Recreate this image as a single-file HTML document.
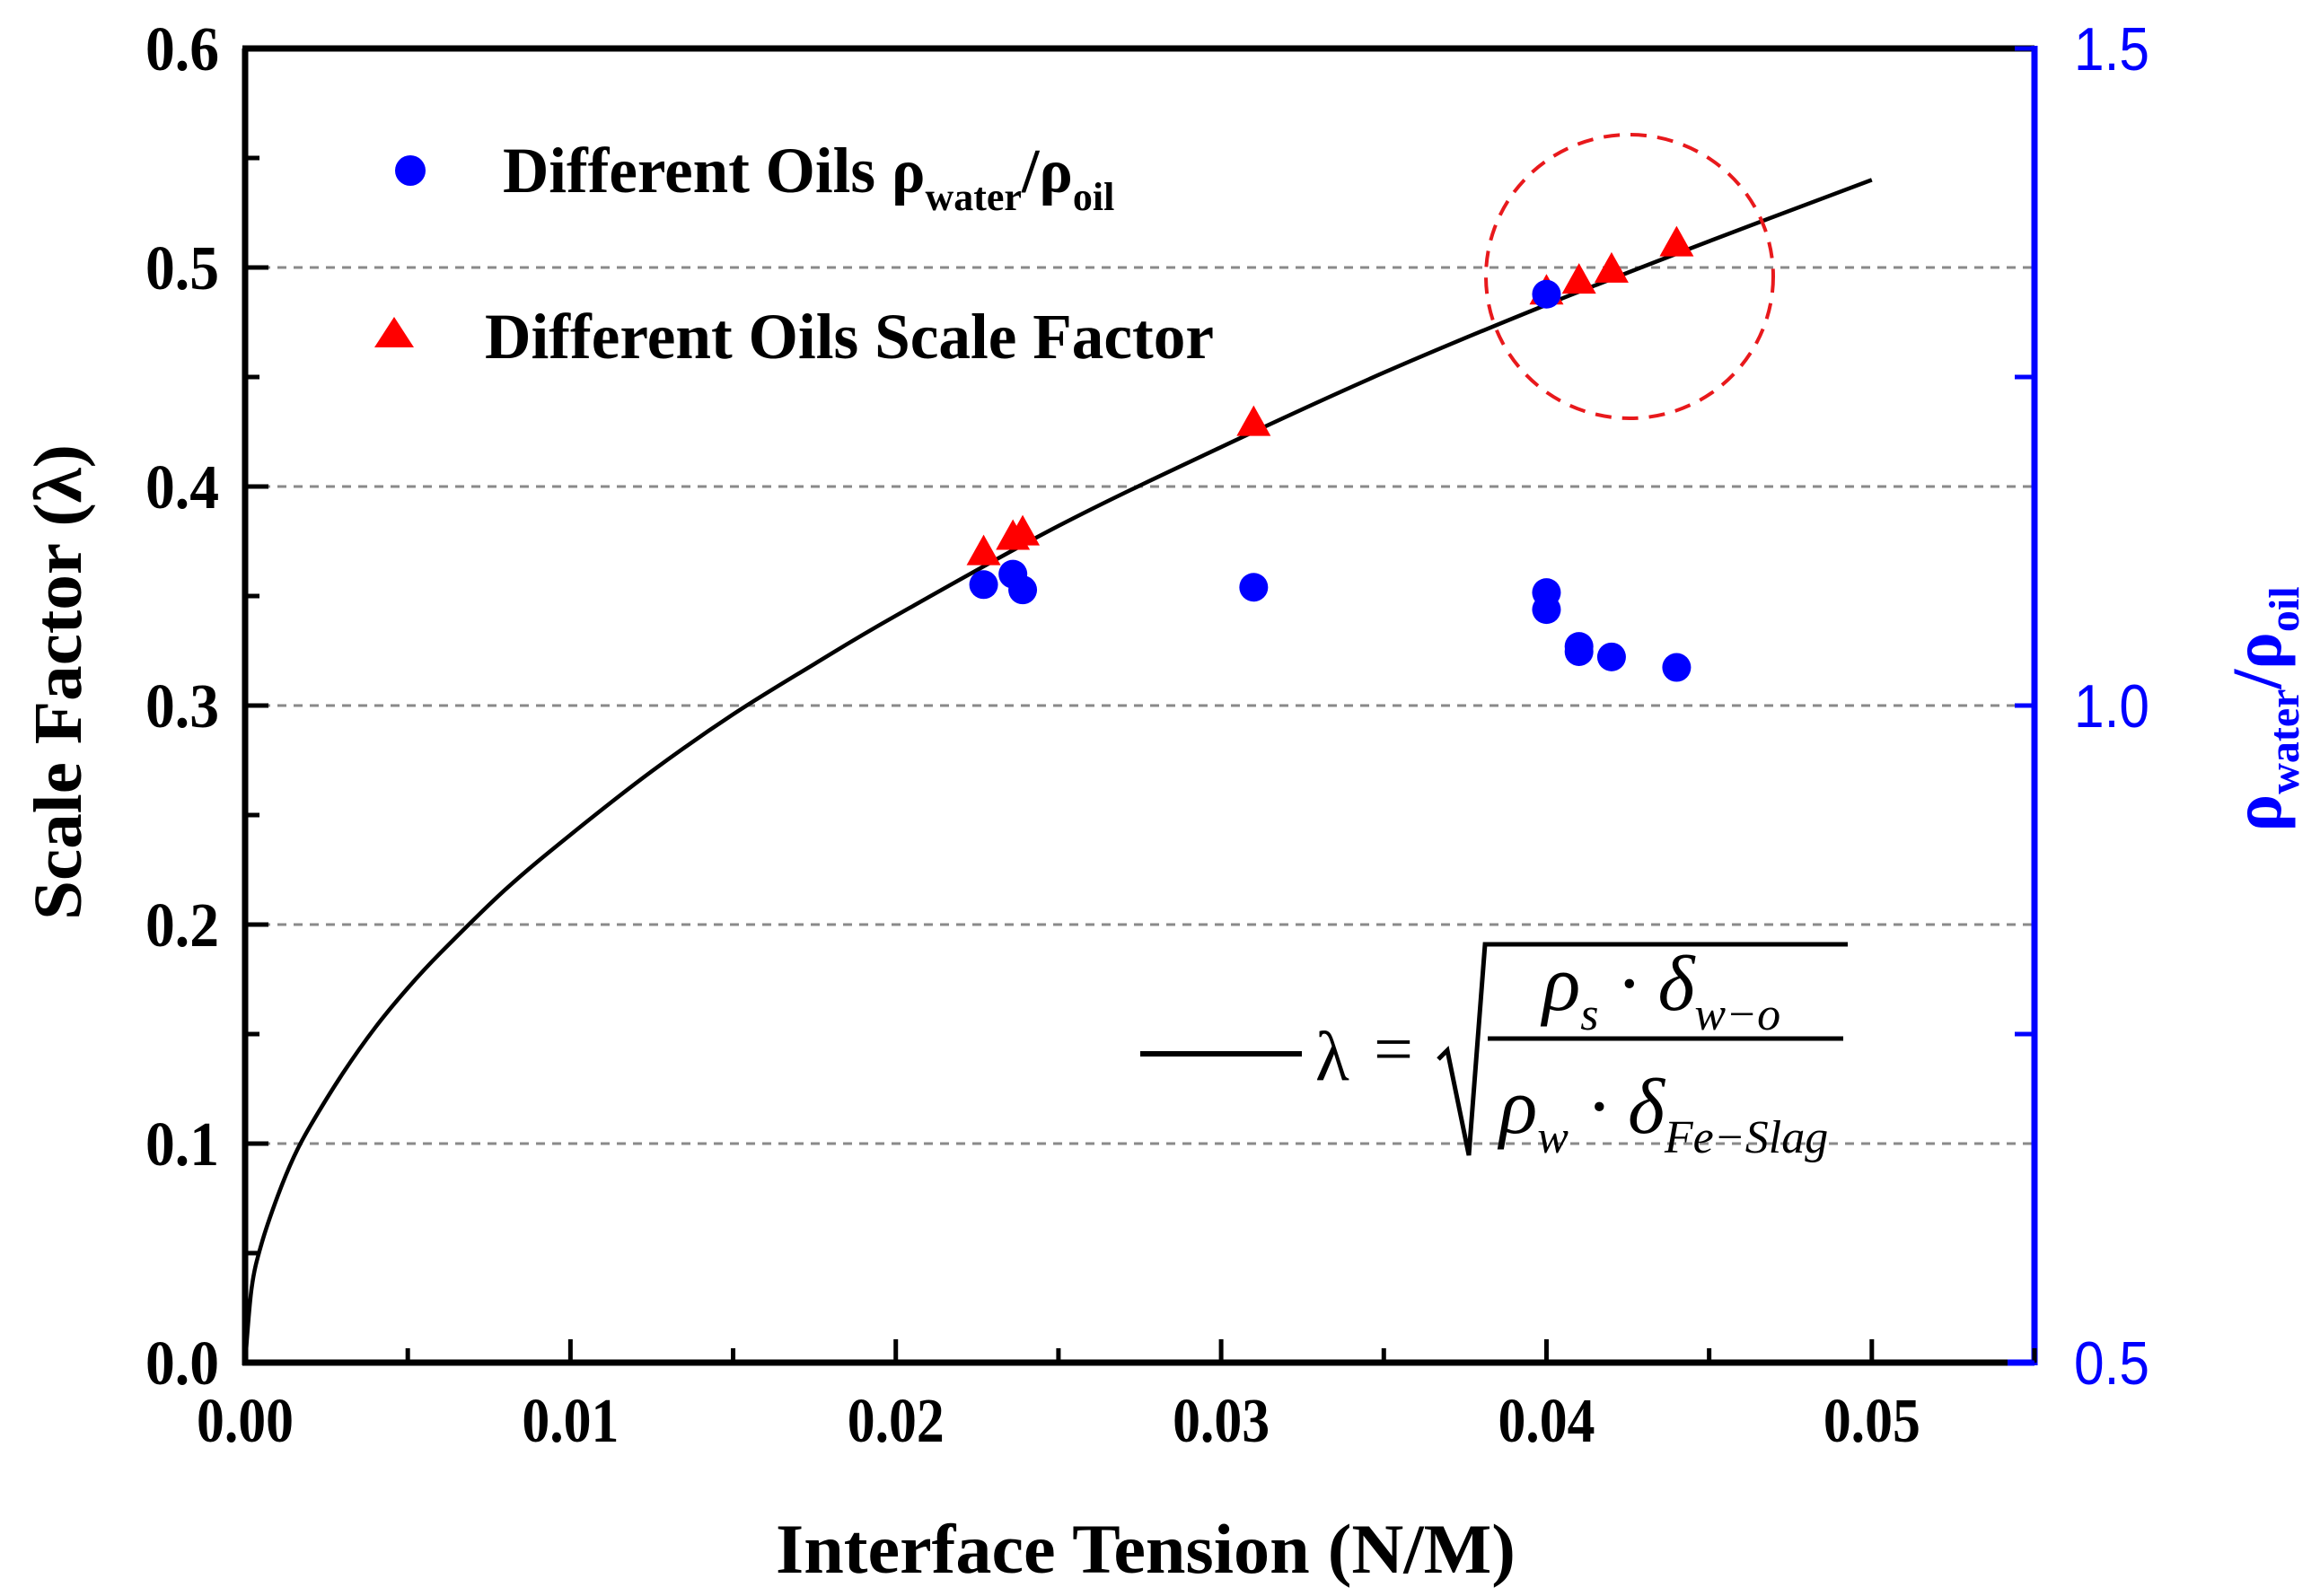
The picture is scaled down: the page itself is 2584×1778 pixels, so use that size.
<!DOCTYPE html>
<html><head><meta charset="utf-8"><style>
html,body{margin:0;padding:0;background:#fff;}
svg{display:block;}
</style></head><body>
<svg id="chart" width="2584" height="1778" viewBox="0 0 2584 1778" xmlns="http://www.w3.org/2000/svg">
  <g id="grid"></g>
  <g id="axes"></g>
  <g id="ticks" font-family="'Liberation Serif', serif" font-weight="bold"></g>
  <path id="curve" fill="none" stroke="#000" stroke-width="4.5"></path>
  <ellipse cx="1815" cy="308" rx="160" ry="158" fill="none" stroke="#e8191c" stroke-width="4" stroke-dasharray="18,12"/>
  <g id="marks"></g>

  <g font-family="'Liberation Serif', serif" font-weight="bold">
    <circle cx="457" cy="190" r="17" fill="#0000ff"/>
    <text x="560" y="214" font-size="72" textLength="415" lengthAdjust="spacingAndGlyphs">Different Oils</text>
    <text x="993" y="214" font-size="70">ρ<tspan font-size="44" dy="20">water</tspan><tspan dy="-20" font-size="70">/ρ</tspan><tspan font-size="44" dy="20">oil</tspan></text>
    <polygon points="439,353 417,387 461,387" fill="#ff0000"/>
    <text x="540" y="399" font-size="72" textLength="812" lengthAdjust="spacingAndGlyphs">Different Oils Scale Factor</text>
  </g>

  <g font-family="'Liberation Serif', serif">
    <line x1="1270" y1="1174" x2="1450" y2="1174" stroke="#000" stroke-width="6"/>
    <text x="1465" y="1203" font-size="78">λ</text>
    <text x="1530" y="1195" font-size="78">=</text>
    <polyline points="1602,1180 1612,1170 1636,1287 1654,1052 2058,1052" fill="none" stroke="#000" stroke-width="5"/>
    <line x1="1657" y1="1157" x2="2053" y2="1157" stroke="#000" stroke-width="5"/>
    <text x="1718" y="1125" font-size="88" font-style="italic">ρ<tspan font-size="52" dy="22">s</tspan><tspan font-size="88" dy="-22"> · δ</tspan><tspan font-size="52" dy="22">w−o</tspan></text>
    <text x="1670" y="1262" font-size="88" font-style="italic">ρ<tspan font-size="52" dy="22">w</tspan><tspan font-size="88" dy="-22"> · δ</tspan><tspan font-size="52" dy="22">Fe−Slag</tspan></text>
  </g>

  <text x="1276" y="1752" text-anchor="middle" font-family="'Liberation Serif', serif" font-weight="bold" font-size="78" textLength="824" lengthAdjust="spacingAndGlyphs">Interface Tension (N/M)</text>
  <text transform="translate(90,760) rotate(-90)" text-anchor="middle" font-family="'Liberation Serif', serif" font-weight="bold" font-size="76" textLength="530" lengthAdjust="spacingAndGlyphs">Scale Factor (λ)</text>
  <text transform="translate(2540,790) rotate(-90)" text-anchor="middle" font-family="'Liberation Serif', serif" font-weight="bold" font-size="78" fill="#0000ff">ρ<tspan font-size="48" dy="20">water</tspan><tspan font-size="78" dy="-20">/ρ</tspan><tspan font-size="48" dy="20">oil</tspan></text>
</svg>
<script>
const xTicks = [0, 0.01, 0.02, 0.03, 0.04, 0.05];
const xTickLabels = ["0.00", "0.01", "0.02", "0.03", "0.04", "0.05"];
const yTicks = [0, 0.1, 0.2, 0.3, 0.4, 0.5, 0.6];
const yTickLabels = ["0.0", "0.1", "0.2", "0.3", "0.4", "0.5", "0.6"];
const y2Ticks = [0.5, 1.0, 1.5];
const y2TickLabels = ["0.5", "1.0", "1.5"];
const curveX = [0, 0.0002, 0.0005, 0.001, 0.0015, 0.002, 0.003, 0.004, 0.005, 0.006, 0.008, 0.01, 0.0125, 0.015, 0.0175, 0.02, 0.025, 0.03, 0.035, 0.04, 0.045, 0.05];
const curveY = [0, 0.034, 0.054, 0.076, 0.094, 0.108, 0.132, 0.153, 0.171, 0.187, 0.216, 0.241, 0.270, 0.296, 0.319, 0.341, 0.382, 0.418, 0.452, 0.483, 0.512, 0.540];
const triX = [0.0227, 0.0236, 0.0239, 0.031, 0.040, 0.041, 0.042, 0.044];
const triY = [0.369, 0.376, 0.378, 0.428, 0.488, 0.493, 0.498, 0.510];
const dotX = [0.0227, 0.0236, 0.0239, 0.031, 0.040, 0.040, 0.041, 0.041, 0.042, 0.044, 0.040];
const dotY = [1.092, 1.100, 1.088, 1.090, 1.086, 1.073, 1.045, 1.041, 1.037, 1.029, 1.313];

const NS = "http://www.w3.org/2000/svg";
const X0 = 273, X1 = 2266, Y0 = 1518, Y1 = 54;
const xMax = 0.055;
function sx(v){ return X0 + v / xMax * (X1 - X0); }
function sy(v){ return Y0 - v / 0.6 * (Y0 - Y1); }
function sy2(v){ return Y0 - (v - 0.5) / 1.0 * (Y0 - Y1); }
function mk(tag, attrs, parent){
  const e = document.createElementNS(NS, tag);
  for (const k in attrs) e.setAttribute(k, attrs[k]);
  parent.appendChild(e);
  return e;
}
const grid = document.getElementById('grid');
const axes = document.getElementById('axes');
const ticks = document.getElementById('ticks');
const marks = document.getElementById('marks');

yTicks.forEach(function(v){
  if (v === 0 || v === 0.6) return;
  const l = mk('line', {x1: X0, x2: X1, y1: sy(v), y2: sy(v), stroke: '#8a8a8a', 'stroke-width': 3, 'stroke-dasharray': '10,8'}, grid);
  
  
});

let a;
a = mk('line', {x1: X0, y1: Y1, x2: X0, y2: Y0 + 3, stroke: '#000', 'stroke-width': 7}, axes);


a = mk('line', {x1: X0 - 3, y1: Y1, x2: X1, y2: Y1, stroke: '#000', 'stroke-width': 7}, axes);


a = mk('line', {x1: X0 - 3, y1: Y0, x2: X1, y2: Y0, stroke: '#000', 'stroke-width': 7}, axes);


a = mk('line', {x1: X1, y1: Y1 - 3, x2: X1, y2: Y0 + 3, stroke: '#0000ff', 'stroke-width': 7}, axes);


a = mk('line', {x1: X1 - 30, y1: Y0, x2: X1, y2: Y0, stroke: '#0000ff', 'stroke-width': 7}, axes);



for (let i = 0; i <= 12; i++) {
  const v = i * 0.05;
  const len = (i % 2 === 0) ? 26 : 16;
  const t = mk('line', {x1: X0, x2: X0 + len, y1: sy(v), y2: sy(v), stroke: '#000', 'stroke-width': 5}, axes);
  
  
}
for (let i = 0; i <= 11; i++) {
  const v = i * 0.005;
  const len = (i % 2 === 0) ? 26 : 16;
  const t = mk('line', {x1: sx(v), x2: sx(v), y1: Y0, y2: Y0 - len, stroke: '#000', 'stroke-width': 5}, axes);
  
  
}
for (let i = 0; i <= 4; i++) {
  const v = 0.5 + i * 0.25;
  const t = mk('line', {x1: X1, x2: X1 - 22, y1: sy2(v), y2: sy2(v), stroke: '#0000ff', 'stroke-width': 5}, axes);
  
  
}

xTicks.forEach(function(v, i){
  const t = mk('text', {x: sx(v), y: 1606, 'text-anchor': 'middle', 'font-size': 70, textLength: 108, lengthAdjust: 'spacingAndGlyphs'}, ticks);
  t.textContent = xTickLabels[i];
  
  
});
yTicks.forEach(function(v, i){
  const t = mk('text', {x: 244, y: sy(v) + 24, 'text-anchor': 'end', 'font-size': 70, textLength: 82, lengthAdjust: 'spacingAndGlyphs'}, ticks);
  t.textContent = yTickLabels[i];
  
  
});
y2Ticks.forEach(function(v, i){
  const t = mk('text', {x: 2310, y: sy2(v) + 24, 'font-size': 68, fill: '#0000ff', 'font-family': "'Liberation Sans', sans-serif", 'font-weight': 'normal', textLength: 84, lengthAdjust: 'spacingAndGlyphs'}, ticks);
  t.textContent = y2TickLabels[i];
  
  
});

(function(){
  const p = curveX.map(function(v, i){ return [sx(v), sy(curveY[i])]; });
  let d = 'M' + p[0][0] + ',' + p[0][1];
  for (let i = 0; i < p.length - 1; i++) {
    const p0 = p[Math.max(0, i - 1)], p1 = p[i], p2 = p[i + 1], p3 = p[Math.min(p.length - 1, i + 2)];
    const c1x = p1[0] + (p2[0] - p0[0]) / 6, c1y = p1[1] + (p2[1] - p0[1]) / 6;
    const c2x = p2[0] - (p3[0] - p1[0]) / 6, c2y = p2[1] - (p3[1] - p1[1]) / 6;
    d += ' C' + c1x + ',' + c1y + ' ' + c2x + ',' + c2y + ' ' + p2[0] + ',' + p2[1];
  }
  document.getElementById('curve').setAttribute('d', d);
})();

triX.forEach(function(v, i){
  const cx = sx(v), cy = sy(triY[i]);
  const t = mk('polygon', {points: cx + ',' + (cy - 22) + ' ' + (cx - 19) + ',' + (cy + 12) + ' ' + (cx + 19) + ',' + (cy + 12), fill: '#ff0000'}, marks);
  
  
});
dotX.forEach(function(v, i){
  const c = mk('circle', {cx: sx(v), cy: sy2(dotY[i]), r: 16, fill: '#0000ff'}, marks);
  
  
});
</script>
</body></html>
